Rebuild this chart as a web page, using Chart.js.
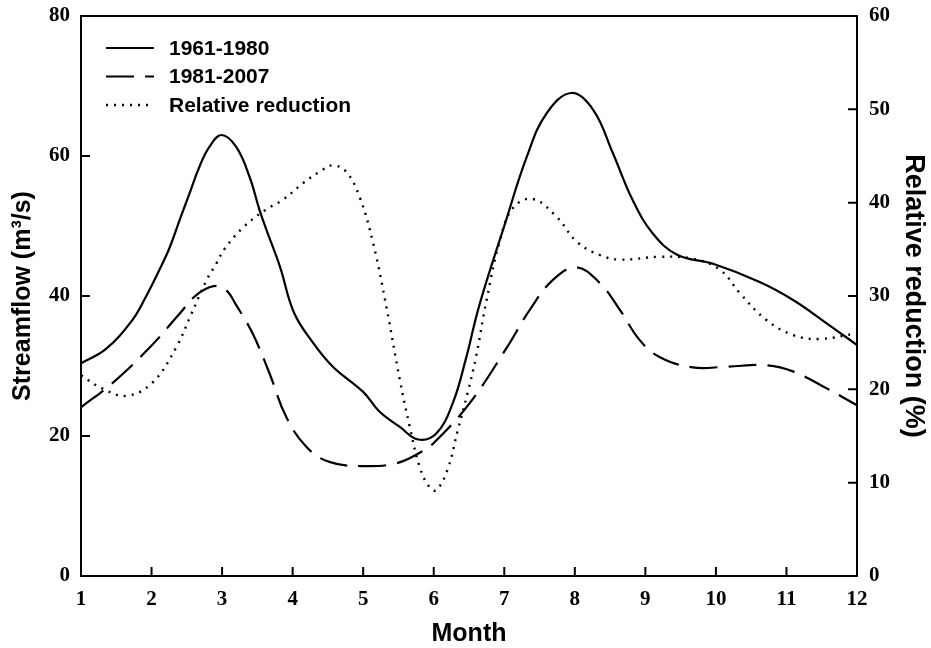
<!DOCTYPE html>
<html>
<head>
<meta charset="utf-8">
<script src="https://cdn.jsdelivr.net/npm/chart.js@4"></script>
<style>
  body { margin: 0; background: #fff; }
  canvas { display: block; }
</style>
</head>
<body>
<canvas id="flowChart" width="931" height="648"></canvas>
<script>
// --- data ---
const monthsOld = [1, 1.35, 1.73, 1.92, 2.11, 2.26, 2.4, 2.54, 2.68, 2.82, 2.99, 3.2, 3.39, 3.53, 3.63, 3.82, 4.02, 4.29, 4.57, 5.0, 5.23, 5.52, 5.78, 6.04, 6.27, 6.45, 6.65, 7.0, 7.32, 7.6, 7.95, 8.26, 8.54, 8.82, 9.1, 9.45, 9.96, 10.62, 11.1, 11.57, 12];
const flowOld = [30.4, 32.4, 36.6, 39.9, 43.7, 47.0, 50.9, 54.7, 58.5, 61.3, 63.0, 61.3, 57.0, 52.3, 49.4, 44.2, 37.6, 33.3, 29.9, 26.3, 23.5, 21.3, 19.5, 20.4, 24.7, 30.8, 38.8, 50.0, 59.9, 66.1, 69.0, 66.6, 60.4, 53.7, 49.0, 45.9, 44.6, 42.0, 39.4, 36.1, 33.0];

const monthsNew = [1, 1.45, 1.97, 2.4, 2.63, 2.88, 3.05, 3.2, 3.43, 3.67, 3.91, 4.2, 4.52, 4.99, 5.47, 5.8, 6.0, 6.51, 7.04, 7.36, 7.69, 8.02, 8.35, 8.64, 8.92, 9.2, 9.67, 10.15, 10.72, 11.1, 11.57, 12];
const flowNew = [24.1, 27.6, 32.6, 37.5, 40.1, 41.4, 40.9, 38.7, 34.7, 29.0, 22.7, 18.4, 16.3, 15.7, 16.1, 17.6, 19.0, 24.7, 32.7, 38.0, 42.3, 44.1, 41.9, 38.0, 33.7, 31.3, 29.8, 29.9, 30.1, 29.2, 26.8, 24.4];

const monthsRel = [1, 1.3, 1.64, 2.01, 2.35, 2.56, 2.78, 2.92, 3.04, 3.32, 3.63, 3.86, 4.15, 4.4, 4.57, 4.76, 4.95, 5.14, 5.33, 5.52, 5.66, 5.8, 5.94, 6.04, 6.2, 6.34, 6.48, 6.6, 6.75, 6.94, 7.12, 7.4, 7.74, 8.03, 8.35, 8.64, 9.2, 9.67, 10.06, 10.34, 10.72, 11.1, 11.47, 12];
const reduction = [21.5, 20.1, 19.3, 20.7, 24.5, 28.0, 31.7, 33.5, 35.1, 37.5, 39.3, 40.3, 42.1, 43.4, 44.0, 43.3, 40.6, 35.7, 28.8, 21.0, 16.0, 11.7, 9.5, 9.2, 11.5, 15.6, 19.6, 23.5, 29.6, 36.0, 39.4, 40.4, 38.5, 35.8, 34.4, 33.9, 34.2, 34.0, 32.8, 30.3, 27.4, 25.8, 25.4, 26.0];

const seriesLabels = ['1961-1980', '1981-2007', 'Relative reduction'];

function toPoints(xs, ys) {
    return xs.map((x, i) => ({ x: x, y: ys[i] }));
}

// rahmen + ticks nach innen
const framePlugin = {
    id: 'frame',
    afterDraw(chart) {
        const ctx = chart.ctx;
        const area = chart.chartArea;
        const tickLen = 9;
        ctx.save();
        ctx.strokeStyle = '#000';
        ctx.lineWidth = 2;
        ctx.setLineDash([]);
        ctx.strokeRect(area.left, area.top, area.right - area.left, area.bottom - area.top);

        ctx.beginPath();
        chart.scales.x.ticks.forEach(t => {
            const px = chart.scales.x.getPixelForValue(t.value);
            ctx.moveTo(px, area.bottom);
            ctx.lineTo(px, area.bottom - tickLen);
        });
        chart.scales.y.ticks.forEach(t => {
            const py = chart.scales.y.getPixelForValue(t.value);
            ctx.moveTo(area.left, py);
            ctx.lineTo(area.left + tickLen, py);
        });
        chart.scales.y1.ticks.forEach(t => {
            const py = chart.scales.y1.getPixelForValue(t.value);
            ctx.moveTo(area.right, py);
            ctx.lineTo(area.right - tickLen, py);
        });
        ctx.stroke();
        ctx.restore();
    }
};

// legende oben links im plotbereich
const legendPlugin = {
    id: 'innerLegend',
    afterDraw(chart) {
        const ctx = chart.ctx;
        const area = chart.chartArea;
        const x0 = area.left + 25;
        const x1 = area.left + 73;
        const textX = area.left + 88;
        const rows = [32, 60.5, 89];
        ctx.save();
        ctx.font = 'bold 21px "Liberation Sans", Arial, sans-serif';
        ctx.textBaseline = 'middle';
        ctx.fillStyle = '#000';
        chart.data.datasets.forEach((ds, i) => {
            const y = area.top + rows[i];
            ctx.beginPath();
            ctx.strokeStyle = ds.borderColor;
            ctx.lineWidth = ds.borderWidth;
            ctx.setLineDash(ds.borderDash || []);
            ctx.moveTo(x0, y);
            ctx.lineTo(x1, y);
            ctx.stroke();
            ctx.setLineDash([]);
            ctx.fillText(ds.label, textX, y + 1);
        });
        ctx.restore();
    }
};

function noPad(scale) {
    scale.paddingTop = 0;
    scale.paddingBottom = 0;
    scale.paddingLeft = 0;
    scale.paddingRight = 0;
}

const tickFont = { family: '"Liberation Serif", "Times New Roman", serif', size: 21, weight: 'bold' };
const titleFont = { family: '"Liberation Sans", Arial, sans-serif', weight: 'bold', lineHeight: 1 };

const chartCtx = document.getElementById('flowChart');
new Chart(chartCtx, {
    type: 'line',
    data: {
        datasets: [{
            label: seriesLabels[0],
            data: toPoints(monthsOld, flowOld),
            yAxisID: 'y',
            borderColor: '#000',
            borderWidth: 2.2,
            borderDash: [],
            pointRadius: 0,
            tension: 0.4
        }, {
            label: seriesLabels[1],
            data: toPoints(monthsNew, flowNew),
            yAxisID: 'y',
            borderColor: '#000',
            borderWidth: 2.2,
            borderDash: [28, 11],
            pointRadius: 0,
            tension: 0.4
        }, {
            label: seriesLabels[2],
            data: toPoints(monthsRel, reduction),
            yAxisID: 'y1',
            borderColor: '#000',
            borderWidth: 2.4,
            borderDash: [2, 6],
            pointRadius: 0,
            tension: 0.4
        }]
    },
    options: {
        responsive: false,
        animation: false,
        events: [],
        layout: { padding: { top: 16, left: 0, right: 0, bottom: 0 } },
        plugins: {
            legend: { display: false },
            tooltip: { enabled: false }
        },
        scales: {
            x: {
                type: 'linear',
                min: 1,
                max: 12,
                grid: { display: false, drawTicks: false },
                border: { display: false },
                ticks: { stepSize: 1, color: '#000', font: tickFont, padding: 11, maxRotation: 0 },
                title: { display: true, text: 'Month', color: '#000', font: Object.assign({ size: 25 }, titleFont), padding: { top: 0, bottom: 1 } },
                afterFit(scale) { scale.height = 72; noPad(scale); }
            },
            y: {
                position: 'left',
                min: 0,
                max: 80,
                grid: { display: false, drawTicks: false },
                border: { display: false },
                ticks: { stepSize: 20, color: '#000', font: tickFont, padding: 11 },
                title: { display: true, text: 'Streamflow (m³/s)', color: '#000', font: Object.assign({ size: 25 }, titleFont), padding: { top: 11, bottom: 0 } },
                afterFit(scale) { scale.width = 81; noPad(scale); }
            },
            y1: {
                position: 'right',
                min: 0,
                max: 60,
                grid: { display: false, drawTicks: false },
                border: { display: false },
                ticks: { stepSize: 10, color: '#000', font: tickFont, padding: 12 },
                title: { display: true, text: 'Relative reduction (%)', color: '#000', font: Object.assign({ size: 27 }, titleFont), padding: { top: 4, bottom: 0 } },
                afterFit(scale) { scale.width = 74; noPad(scale); }
            }
        }
    },
    plugins: [framePlugin, legendPlugin]
});
</script>
</body>
</html>
